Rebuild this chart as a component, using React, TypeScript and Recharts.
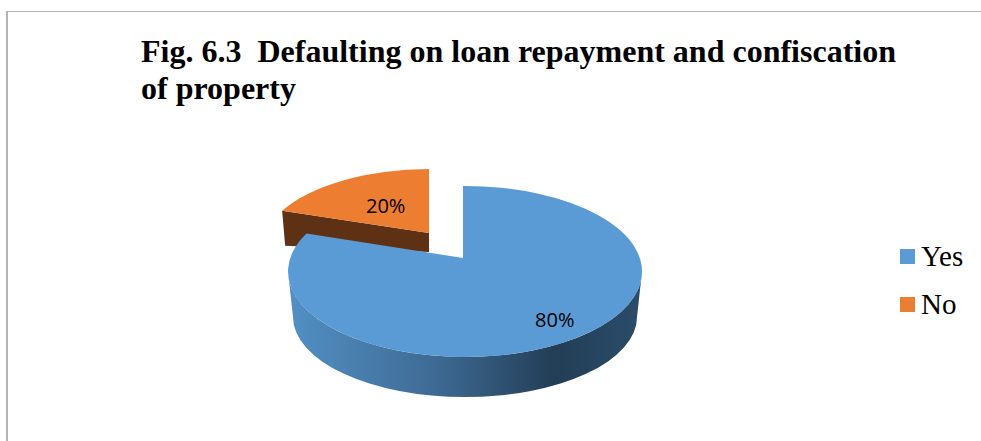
import { PieChart, Pie, Legend } from "recharts";

const categories = ["Yes", "No"];
const shares = [80, 20];
const colors = ["#5b9bd5", "#ed7d31"];
const titleLines = ["Fig. 6.3  Defaulting on loan repayment and confiscation", "of property"];

// the back slice goes first so the big slice paints over it
const pieData = categories
  .map((name, i) => ({ name, value: shares[i], fill: colors[i] }))
  .reverse();

// Perspective pie: each slice has a pivot and a rim ellipse, the rim point for
// an angle is where the ray from the pivot meets the ellipse.
type SliceView = {
  px: number;
  py: number;
  ex: number;
  ey: number;
  rx: number;
  ry: number;
  labelAt: number;
};

const views: Record<string, SliceView> = {
  Yes: { px: 463, py: 258, ex: 465, ey: 271.5, rx: 177, ry: 85.5, labelAt: 0.78 },
  No: { px: 429, py: 233, ex: 431, ey: 247, rx: 168, ry: 78, labelAt: 0.52 },
};

function rimPoint(v: SliceView, deg: number) {
  const a = (deg * Math.PI) / 180;
  const dx = v.rx * Math.cos(a);
  const dy = -v.ry * Math.sin(a);
  const ox = (v.px - v.ex) / v.rx;
  const oy = (v.py - v.ey) / v.ry;
  const ux = dx / v.rx;
  const uy = dy / v.ry;
  const A = ux * ux + uy * uy;
  const B = 2 * (ox * ux + oy * uy);
  const C = ox * ox + oy * oy - 1;
  const t = (-B + Math.sqrt(B * B - 4 * A * C)) / (2 * A);
  return { x: v.px + dx * t, y: v.py + dy * t };
}

function PerspectiveSlice(props: any) {
  const name = props.name ?? props.payload?.name;
  const v = views[name];
  const start = rimPoint(v, props.startAngle);
  const end = rimPoint(v, props.endAngle);
  const large = Math.abs(props.startAngle - props.endAngle) > 180 ? 1 : 0;
  const top = `M${v.px},${v.py} L${start.x},${start.y} A${v.rx},${v.ry} 0 ${large} 1 ${end.x},${end.y} Z`;

  if (name === "Yes") {
    const wall = `M${v.ex - v.rx},${v.ey} A${v.rx},${v.ry} 0 0 0 ${v.ex + v.rx},${v.ey} L${v.ex + 172},317 A172,80 0 0 1 ${v.ex - 172},317 Z`;
    return (
      <g>
        <defs>
          <linearGradient id="yesWall" x1="0" y1="0" x2="1" y2="0">
            <stop offset="0" stopColor="#5290c4" />
            <stop offset="0.4" stopColor="#3f6c96" />
            <stop offset="0.75" stopColor="#233e56" />
            <stop offset="1" stopColor="#2a4c6a" />
          </linearGradient>
        </defs>
        <path d={wall} fill="url(#yesWall)" />
        <path d={top} fill={props.fill} />
      </g>
    );
  }

  // only the front cut face of the small slice is visible
  const depthAtRim = 35;
  const depthAtPivot = 19;
  const cut = `M${end.x < start.x ? end.x : start.x},${end.x < start.x ? end.y : start.y} L${v.px},${v.py} L${v.px},${v.py + depthAtPivot} L${Math.min(start.x, end.x) + 3},${(end.x < start.x ? end.y : start.y) + depthAtRim} Z`;
  return (
    <g>
      <path d={cut} fill="#5f3114" />
      <path d={top} fill={props.fill} />
    </g>
  );
}

function percentLabel(props: any) {
  const v = views[props.name ?? props.payload?.name];
  const a = (props.midAngle * Math.PI) / 180;
  const p = rimPoint(v, props.midAngle);
  const x = v.px + (p.x - v.px) * v.labelAt;
  const y = v.py + (p.y - v.py) * v.labelAt;
  void a;
  return (
    <text
      x={x}
      y={y}
      textAnchor="middle"
      dominantBaseline="central"
      fontFamily="'Open Sans', sans-serif"
      fontSize={20}
      fill="#000"
    >
      {`${Math.round(props.percent * 100)}%`}
    </text>
  );
}

function SideLegend({ payload }: any) {
  const items = categories.map((c) => (payload ?? []).find((p: any) => p.value === c)).filter(Boolean);
  return (
    <div>
      {items.map((item: any) => (
        <div key={item.value} style={{ display: "flex", alignItems: "center", height: 48 }}>
          <span style={{ width: 15, height: 15, background: item.color, marginRight: 6 }} />
          <span style={{ fontFamily: "'Liberation Serif', serif", fontSize: 29, color: "#000", lineHeight: "48px" }}>
            {item.value}
          </span>
        </div>
      ))}
    </div>
  );
}

export default function App() {
  return (
    <div style={{ position: "absolute", left: 0, top: 0, width: 981, height: 441, background: "#fff", overflow: "hidden" }}>
      <div
        style={{
          position: "absolute",
          left: 6,
          top: 11,
          width: 975,
          height: 430,
          borderLeft: "2px solid #b4b4b4",
          borderTop: "1px solid #b4b4b4",
        }}
      />
      <PieChart width={981} height={441} style={{ position: "absolute", left: 0, top: 0 }}>
        {titleLines.map((line, i) => (
          <text
            key={line}
            x={141}
            y={62 + i * 37}
            fontFamily="'Liberation Serif', serif"
            fontWeight="bold"
            fontSize={32}
            fill="#000"
            style={{ whiteSpace: "pre" }}
          >
            {line}
          </text>
        ))}
        <Pie
          data={pieData}
          dataKey="value"
          nameKey="name"
          cx={465}
          cy={271}
          outerRadius={177}
          startAngle={162}
          endAngle={-198}
          stroke="none"
          shape={PerspectiveSlice}
          label={percentLabel}
          labelLine={false}
          isAnimationActive={false}
        />
        <Legend
          layout="vertical"
          content={<SideLegend />}
          wrapperStyle={{ position: "absolute", left: 900, top: 232, width: 81 }}
        />
      </PieChart>
    </div>
  );
}
